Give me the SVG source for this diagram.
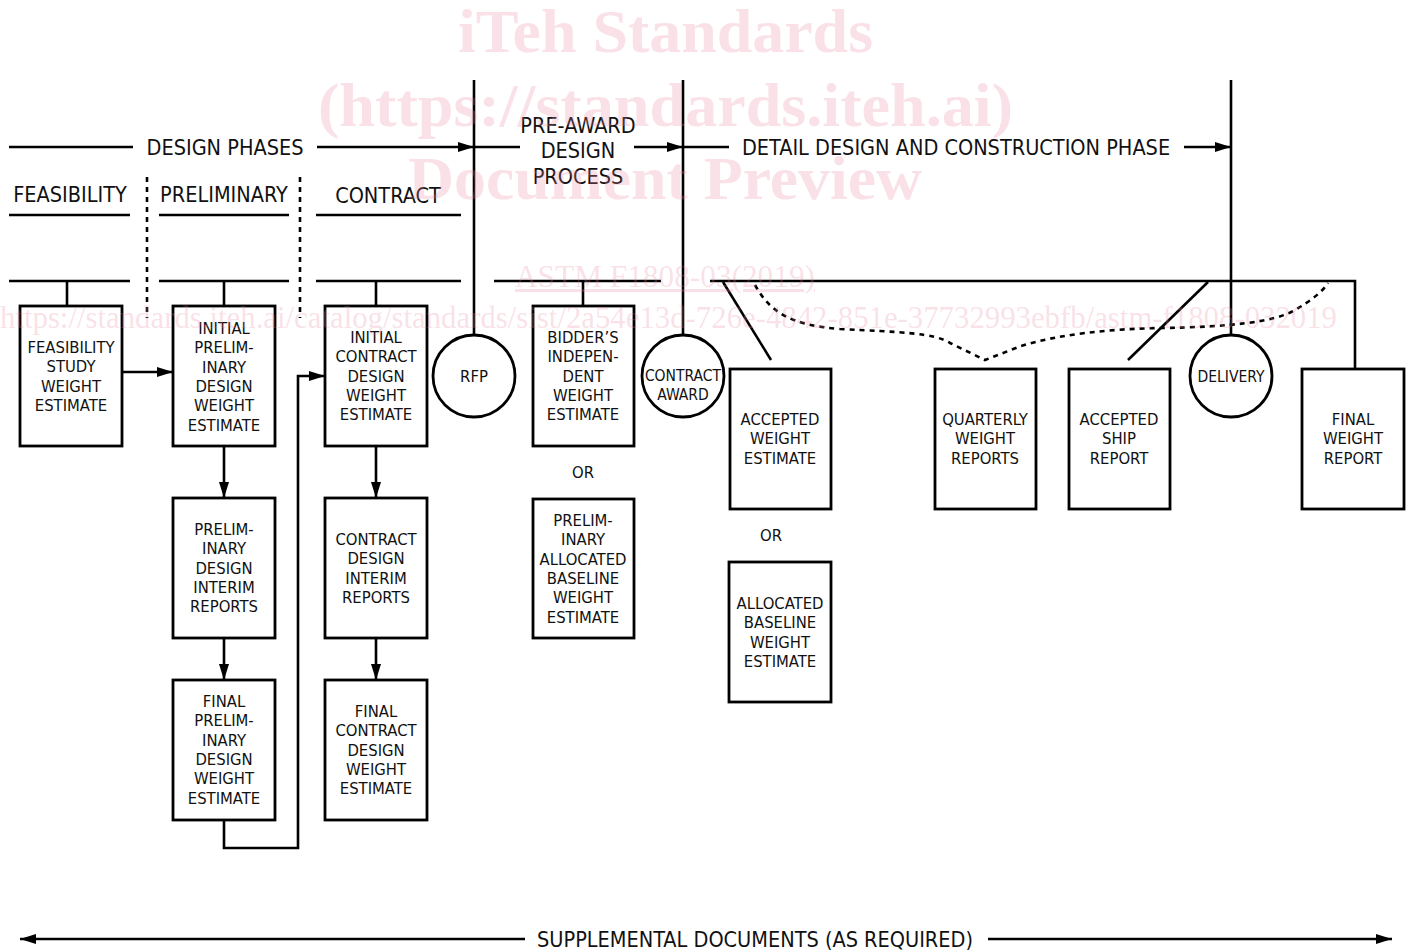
<svg xmlns="http://www.w3.org/2000/svg" width="1412" height="951" viewBox="0 0 1412 951">
<defs>
<style>
.ln{stroke:#000;stroke-width:2.6;fill:none}
.dash{stroke:#000;stroke-width:2.6;fill:none;stroke-dasharray:5 5}
.box{stroke:#000;stroke-width:2.8;fill:#fff}
.hd{font-family:"DejaVu Sans Condensed","DejaVu Sans",sans-serif;font-size:21.5px;fill:#111;text-anchor:middle}
.bt{font-family:"DejaVu Sans Condensed","DejaVu Sans",sans-serif;font-size:16.5px;fill:#111;text-anchor:middle}
.ct{font-family:"DejaVu Sans Condensed","DejaVu Sans",sans-serif;font-size:15.5px;fill:#111;text-anchor:middle}
.wm{font-family:"Liberation Serif",serif;fill:#e8879f;fill-opacity:0.25}
</style>
<marker id="ah" viewBox="0 0 16 10" refX="16" refY="5" markerWidth="16" markerHeight="10" markerUnits="userSpaceOnUse" orient="auto">
<path d="M0,0 L16,5 L0,10 Z" fill="#000"/>
</marker>
<marker id="ahs" viewBox="0 0 16 10" refX="0" refY="5" markerWidth="16" markerHeight="10" markerUnits="userSpaceOnUse" orient="auto">
<path d="M16,0 L0,5 L16,10 Z" fill="#000"/>
</marker>
</defs>
<rect width="1412" height="951" fill="#fff"/>
<g id="headers">
<text class="hd" x="225" y="155">DESIGN PHASES</text>
<text class="hd" x="578" y="133">PRE-AWARD</text>
<text class="hd" x="578" y="158">DESIGN</text>
<text class="hd" x="578" y="184">PROCESS</text>
<text class="hd" x="956" y="155">DETAIL DESIGN AND CONSTRUCTION PHASE</text>
<text class="hd" x="70" y="202">FEASIBILITY</text>
<text class="hd" x="224" y="202">PRELIMINARY</text>
<text class="hd" x="388" y="203">CONTRACT</text>
<text class="hd" x="755" y="947">SUPPLEMENTAL DOCUMENTS (AS REQUIRED)</text>
</g>
<g id="connectors">
<line class="ln" x1="9" y1="147" x2="133" y2="147"/>
<line class="ln" x1="317" y1="147" x2="474" y2="147" marker-end="url(#ah)"/>
<line class="ln" x1="474" y1="147" x2="520" y2="147"/>
<line class="ln" x1="634" y1="147" x2="683" y2="147" marker-end="url(#ah)"/>
<line class="ln" x1="683" y1="147" x2="729" y2="147"/>
<line class="ln" x1="1184" y1="147" x2="1231" y2="147" marker-end="url(#ah)"/>
<line class="ln" x1="474" y1="80" x2="474" y2="335"/>
<line class="ln" x1="683" y1="80" x2="683" y2="335"/>
<line class="ln" x1="1231" y1="80" x2="1231" y2="335"/>
<line class="ln" x1="9" y1="215" x2="130" y2="215"/>
<line class="ln" x1="159" y1="215" x2="289" y2="215"/>
<line class="ln" x1="316" y1="215" x2="461" y2="215"/>
<line class="dash" x1="147" y1="177" x2="147" y2="318"/>
<line class="dash" x1="300" y1="177" x2="300" y2="318"/>
<line class="ln" x1="9" y1="281" x2="130" y2="281"/>
<line class="ln" x1="159" y1="281" x2="289" y2="281"/>
<line class="ln" x1="316" y1="281" x2="461" y2="281"/>
<line class="ln" x1="494" y1="281" x2="661" y2="281"/>
<polyline class="ln" points="710,281 1355,281 1355,369"/>
<line class="ln" x1="67" y1="281" x2="67" y2="306"/>
<line class="ln" x1="224" y1="281" x2="224" y2="306"/>
<line class="ln" x1="376" y1="281" x2="376" y2="306"/>
<line class="ln" x1="583" y1="281" x2="583" y2="306"/>
<line class="ln" x1="723" y1="282" x2="771" y2="360"/>
<line class="ln" x1="1208" y1="282" x2="1128" y2="360"/>
<path class="dash" d="M755,285 C770,312 790,325 840,329 C900,332 935,333 950,343 L985,360 L1021,346 C1060,334 1110,329 1160,328 C1230,327 1275,322 1295,310 C1312,300 1322,292 1328,283"/>
<line class="ln" x1="122" y1="372" x2="173" y2="372" marker-end="url(#ah)"/>
<line class="ln" x1="224" y1="446" x2="224" y2="498" marker-end="url(#ah)"/>
<line class="ln" x1="224" y1="638" x2="224" y2="680" marker-end="url(#ah)"/>
<line class="ln" x1="376" y1="446" x2="376" y2="498" marker-end="url(#ah)"/>
<line class="ln" x1="376" y1="638" x2="376" y2="680" marker-end="url(#ah)"/>
<polyline class="ln" points="224,820 224,848 298,848 298,376 325,376" marker-end="url(#ah)"/>
<line class="ln" x1="20" y1="939" x2="525" y2="939" marker-start="url(#ahs)"/>
<line class="ln" x1="988" y1="939" x2="1392" y2="939" marker-end="url(#ah)"/>
</g>
<g id="feasibility-study">
<rect class="box" x="20" y="306" width="102" height="140"/>
<text class="bt" x="71" y="353">FEASIBILITY<tspan x="71" dy="19.3">STUDY</tspan><tspan x="71" dy="19.3">WEIGHT</tspan><tspan x="71" dy="19.3">ESTIMATE</tspan></text>
</g>
<g id="initial-preliminary">
<rect class="box" x="173" y="306" width="102" height="140"/>
<text class="bt" x="224" y="334">INITIAL<tspan x="224" dy="19.3">PRELIM-</tspan><tspan x="224" dy="19.3">INARY</tspan><tspan x="224" dy="19.3">DESIGN</tspan><tspan x="224" dy="19.3">WEIGHT</tspan><tspan x="224" dy="19.3">ESTIMATE</tspan></text>
</g>
<g id="preliminary-interim">
<rect class="box" x="173" y="498" width="102" height="140"/>
<text class="bt" x="224" y="535">PRELIM-<tspan x="224" dy="19.3">INARY</tspan><tspan x="224" dy="19.3">DESIGN</tspan><tspan x="224" dy="19.3">INTERIM</tspan><tspan x="224" dy="19.3">REPORTS</tspan></text>
</g>
<g id="final-preliminary">
<rect class="box" x="173" y="680" width="102" height="140"/>
<text class="bt" x="224" y="707">FINAL<tspan x="224" dy="19.3">PRELIM-</tspan><tspan x="224" dy="19.3">INARY</tspan><tspan x="224" dy="19.3">DESIGN</tspan><tspan x="224" dy="19.3">WEIGHT</tspan><tspan x="224" dy="19.3">ESTIMATE</tspan></text>
</g>
<g id="initial-contract">
<rect class="box" x="325" y="306" width="102" height="140"/>
<text class="bt" x="376" y="343">INITIAL<tspan x="376" dy="19.3">CONTRACT</tspan><tspan x="376" dy="19.3">DESIGN</tspan><tspan x="376" dy="19.3">WEIGHT</tspan><tspan x="376" dy="19.3">ESTIMATE</tspan></text>
</g>
<g id="contract-interim">
<rect class="box" x="325" y="498" width="102" height="140"/>
<text class="bt" x="376" y="545">CONTRACT<tspan x="376" dy="19.3">DESIGN</tspan><tspan x="376" dy="19.3">INTERIM</tspan><tspan x="376" dy="19.3">REPORTS</tspan></text>
</g>
<g id="final-contract">
<rect class="box" x="325" y="680" width="102" height="140"/>
<text class="bt" x="376" y="717">FINAL<tspan x="376" dy="19.3">CONTRACT</tspan><tspan x="376" dy="19.3">DESIGN</tspan><tspan x="376" dy="19.3">WEIGHT</tspan><tspan x="376" dy="19.3">ESTIMATE</tspan></text>
</g>
<g id="rfp">
<circle class="box" cx="474" cy="376" r="41"/>
<text class="bt" x="474" y="382">RFP</text>
</g>
<g id="bidders-estimate">
<rect class="box" x="533" y="306" width="101" height="140"/>
<text class="bt" x="583" y="343">BIDDER’S<tspan x="583" dy="19.3">INDEPEN-</tspan><tspan x="583" dy="19.3">DENT</tspan><tspan x="583" dy="19.3">WEIGHT</tspan><tspan x="583" dy="19.3">ESTIMATE</tspan></text>
</g>
<g id="or-1"><text class="bt" x="583" y="478">OR</text></g>
<g id="preliminary-allocated">
<rect class="box" x="533" y="499" width="101" height="139"/>
<text class="bt" x="583" y="526">PRELIM-<tspan x="583" dy="19.3">INARY</tspan><tspan x="583" dy="19.3">ALLOCATED</tspan><tspan x="583" dy="19.3">BASELINE</tspan><tspan x="583" dy="19.3">WEIGHT</tspan><tspan x="583" dy="19.3">ESTIMATE</tspan></text>
</g>
<g id="contract-award">
<circle class="box" cx="683" cy="376" r="41"/>
<text class="ct" x="683" y="381">CONTRACT<tspan x="683" dy="19">AWARD</tspan></text>
</g>
<g id="accepted-weight">
<rect class="box" x="730" y="369" width="101" height="140"/>
<text class="bt" x="780" y="425">ACCEPTED<tspan x="780" dy="19.3">WEIGHT</tspan><tspan x="780" dy="19.3">ESTIMATE</tspan></text>
</g>
<g id="or-2"><text class="bt" x="771" y="541">OR</text></g>
<g id="allocated-baseline">
<rect class="box" x="729" y="562" width="102" height="140"/>
<text class="bt" x="780" y="609">ALLOCATED<tspan x="780" dy="19.3">BASELINE</tspan><tspan x="780" dy="19.3">WEIGHT</tspan><tspan x="780" dy="19.3">ESTIMATE</tspan></text>
</g>
<g id="quarterly">
<rect class="box" x="935" y="369" width="101" height="140"/>
<text class="bt" x="985" y="425">QUARTERLY<tspan x="985" dy="19.3">WEIGHT</tspan><tspan x="985" dy="19.3">REPORTS</tspan></text>
</g>
<g id="accepted-ship">
<rect class="box" x="1069" y="369" width="101" height="140"/>
<text class="bt" x="1119" y="425">ACCEPTED<tspan x="1119" dy="19.3">SHIP</tspan><tspan x="1119" dy="19.3">REPORT</tspan></text>
</g>
<g id="delivery">
<circle class="box" cx="1231" cy="376" r="41"/>
<text class="ct" x="1231" y="382">DELIVERY</text>
</g>
<g id="final-weight">
<rect class="box" x="1302" y="369" width="102" height="140"/>
<text class="bt" x="1353" y="425">FINAL<tspan x="1353" dy="19.3">WEIGHT</tspan><tspan x="1353" dy="19.3">REPORT</tspan></text>
</g>
<g id="watermark">
<text class="wm" x="458" y="52" font-size="62" font-weight="bold" textLength="415" lengthAdjust="spacingAndGlyphs">iTeh Standards</text>
<text class="wm" x="318" y="126" font-size="62" font-weight="bold" textLength="695" lengthAdjust="spacingAndGlyphs">(https://standards.iteh.ai)</text>
<text class="wm" x="408" y="199" font-size="62" font-weight="bold" textLength="514" lengthAdjust="spacingAndGlyphs">Document Preview</text>
<text class="wm" x="515" y="287" font-size="31" textLength="300" lengthAdjust="spacingAndGlyphs" text-decoration="underline">ASTM F1808-03(2019)</text>
<text class="wm" x="0" y="328" font-size="31" textLength="1337" lengthAdjust="spacingAndGlyphs">https://standards.iteh.ai/catalog/standards/sist/2a54e13d-726e-4842-851e-37732993ebfb/astm-f1808-032019</text>
</g>
</svg>
